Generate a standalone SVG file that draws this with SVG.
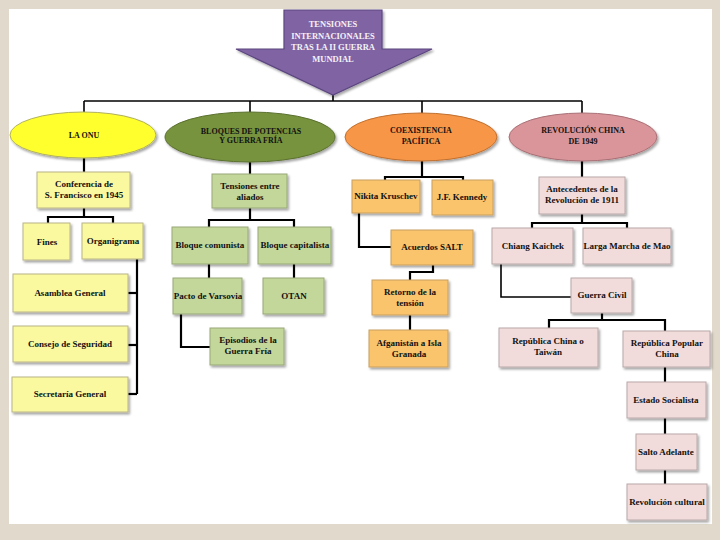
<svg xmlns="http://www.w3.org/2000/svg" width="720" height="540" viewBox="0 0 720 540">
<defs>
<filter id="sh" x="-20%" y="-20%" width="150%" height="160%">
<feDropShadow dx="1.5" dy="2" stdDeviation="1.2" flood-color="#000" flood-opacity="0.35"/>
</filter>
<style>
text{font-family:"Liberation Serif","Times New Roman",serif;font-weight:bold;font-size:9px;fill:#111;text-anchor:middle}
.t{font-size:8px}
.w{fill:#f4f2f8;font-size:8.5px}
.c{fill:none;stroke:#000;stroke-width:2.2}
.c1{fill:none;stroke:#000;stroke-width:1.6}
.y{fill:#fbf9a0;stroke:#b8b488;stroke-width:1}
.g{fill:#c4d79b;stroke:#98a878;stroke-width:1}
.o{fill:#fac46c;stroke:#c8a060;stroke-width:1}
.p{fill:#f2dcdb;stroke:#b8a8a8;stroke-width:1}
rect{filter:url(#sh)}
ellipse{filter:url(#sh)}
</style>
</defs>
<rect x="0" y="0" width="720" height="540" fill="#e0d9cc" style="filter:none"/>
<rect x="9" y="9" width="703" height="515" fill="#ffffff" style="filter:none"/>

<g id="connectors">
<polyline class="c1" points="333,92 333,101"/>
<polyline class="c1" points="84,101 582,101"/>
<polyline class="c1" points="84,101 84,112"/>
<polyline class="c1" points="250,101 250,112"/>
<polyline class="c1" points="422,101 422,113"/>
<polyline class="c1" points="582,101 582,113"/>
<!-- ONU -->
<polyline class="c" points="84,158 84,172"/>
<polyline class="c" points="84,208 84,217"/>
<polyline class="c" points="48,223 48,217 113,217 113,223"/>
<polyline class="c" points="137,259 137,394"/>
<polyline class="c" points="128,293 137,293"/>
<polyline class="c" points="128,345 137,345"/>
<polyline class="c" points="128,394 137,394"/>
<!-- Bloques -->
<polyline class="c" points="250,162 250,174"/>
<polyline class="c" points="250,208 250,220"/>
<polyline class="c" points="209,227 209,220 294,220 294,227"/>
<polyline class="c" points="209,264 209,278"/>
<polyline class="c" points="294,264 294,278"/>
<polyline class="c" points="181,314 181,347 210,347"/>
<!-- Coexistencia -->
<polyline class="c" points="422,161 422,177"/>
<polyline class="c" points="385,180 385,177 463,177 463,180"/>
<polyline class="c" points="359,213 359,247 391,247"/>
<polyline class="c" points="433,265 433,272 410,272 410,280"/>
<polyline class="c" points="410,315 410,330"/>
<!-- Revolucion -->
<polyline class="c" points="582,161 582,177"/>
<polyline class="c" points="582,214 582,223"/>
<polyline class="c" points="532,228 532,223 627,223 627,228"/>
<polyline class="c1" points="501,264 501,297 571,297"/>
<polyline class="c" points="602,313 602,320"/>
<polyline class="c" points="549,328 549,320 665,320 665,331"/>
<polyline class="c" points="665,367 665,382"/>
<polyline class="c" points="665,418 665,434"/>
<polyline class="c" points="665,470 665,484"/>
</g>

<g id="titulo">
<polygon points="284,10 382,10 382,49 432,49 333,95 236,49 284,49" fill="#8064a2" stroke="#5c4680" stroke-width="1.2" style="filter:url(#sh)"/>
<text class="w" x="333" y="27">TENSIONES</text>
<text class="w" x="333" y="39">INTERNACIONALES</text>
<text class="w" x="333" y="50">TRAS LA II GUERRA</text>
<text class="w" x="333" y="62">MUNDIAL</text>
</g>

<g id="onu">
<ellipse cx="83" cy="135" rx="73" ry="23" fill="#ffff2e" stroke="#b0b060"/>
<text class="t" x="84" y="138">LA ONU</text>
</g>
<g id="bloques">
<ellipse cx="250" cy="137" rx="85" ry="25" fill="#77933c" stroke="#5a7030"/>
<text class="t" x="251" y="134">BLOQUES DE POTENCIAS</text>
<text class="t" x="251" y="143">Y GUERRA FRÍA</text>
</g>
<g id="coexistencia">
<ellipse cx="421" cy="137" rx="76" ry="24" fill="#f79646" stroke="#c07030"/>
<text class="t" x="421" y="133">COEXISTENCIA</text>
<text class="t" x="421" y="144">PACÍFICA</text>
</g>
<g id="revolucion">
<ellipse cx="583" cy="137" rx="74" ry="24" fill="#d9959a" stroke="#a87076"/>
<text class="t" x="583" y="133">REVOLUCIÓN CHINA</text>
<text class="t" x="583" y="144">DE 1949</text>
</g>

<g id="conferencia"><rect class="y" x="37" y="172" width="93" height="36"/><text x="84" y="187">Conferencia de</text><text x="84" y="198">S. Francisco en 1945</text></g>
<g id="fines"><rect class="y" x="23" y="223" width="47" height="37"/><text x="47" y="245">Fines</text></g>
<g id="organigrama"><rect class="y" x="82" y="223" width="61" height="36"/><text x="113" y="244">Organigrama</text></g>
<g id="asamblea"><rect class="y" x="13" y="274" width="115" height="38"/><text x="70" y="296">Asamblea General</text></g>
<g id="consejo"><rect class="y" x="13" y="326" width="115" height="36"/><text x="70" y="347">Consejo de Seguridad</text></g>
<g id="secretaria"><rect class="y" x="12" y="377" width="116" height="35"/><text x="70" y="397">Secretaría General</text></g>

<g id="tensiones"><rect class="g" x="212" y="174" width="75" height="34"/><text x="250" y="189">Tensiones entre</text><text x="250" y="200">aliados</text></g>
<g id="comunista"><rect class="g" x="172" y="227" width="76" height="37"/><text x="210" y="248">Bloque comunista</text></g>
<g id="capitalista"><rect class="g" x="258" y="227" width="73" height="37"/><text x="295" y="248">Bloque capitalista</text></g>
<g id="varsovia"><rect class="g" x="173" y="278" width="69" height="36"/><text x="208" y="299">Pacto de Varsovia</text></g>
<g id="otan"><rect class="g" x="263" y="278" width="61" height="36"/><text x="294" y="299">OTAN</text></g>
<g id="episodios"><rect class="g" x="210" y="328" width="74" height="37"/><text x="248" y="343">Episodios de la</text><text x="248" y="354">Guerra Fría</text></g>

<g id="nikita"><rect class="o" x="352" y="180" width="68" height="33"/><text x="386" y="199">Nikita Kruschev</text></g>
<g id="kennedy"><rect class="o" x="432" y="180" width="61" height="35"/><text x="462" y="200">J.F. Kennedy</text></g>
<g id="salt"><rect class="o" x="391" y="230" width="82" height="35"/><text x="432" y="250">Acuerdos SALT</text></g>
<g id="retorno"><rect class="o" x="372" y="280" width="76" height="35"/><text x="410" y="295">Retorno de la</text><text x="410" y="306">tensión</text></g>
<g id="afganistan"><rect class="o" x="369" y="330" width="79" height="37"/><text x="409" y="346">Afganistán a Isla</text><text x="409" y="357">Granada</text></g>

<g id="antecedentes"><rect class="p" x="539" y="177" width="86" height="37"/><text x="582" y="192">Antecedentes de la</text><text x="582" y="203">Revolución de 1911</text></g>
<g id="chiang"><rect class="p" x="492" y="228" width="81" height="36"/><text x="533" y="249">Chiang Kaichek</text></g>
<g id="larga"><rect class="p" x="583" y="228" width="88" height="36"/><text x="627" y="249">Larga Marcha de Mao</text></g>
<g id="guerracivil"><rect class="p" x="571" y="278" width="61" height="35"/><text x="602" y="298">Guerra Civil</text></g>
<g id="taiwan"><rect class="p" x="499" y="328" width="99" height="39"/><text x="548" y="344">República China o</text><text x="548" y="355">Taiwán</text></g>
<g id="popular"><rect class="p" x="623" y="331" width="87" height="36"/><text x="667" y="346">República Popular</text><text x="667" y="357">China</text></g>
<g id="estado"><rect class="p" x="627" y="382" width="79" height="36"/><text x="666" y="403">Estado Socialista</text></g>
<g id="salto"><rect class="p" x="636" y="434" width="61" height="36"/><text x="666" y="455">Salto Adelante</text></g>
<g id="cultural"><rect class="p" x="627" y="484" width="80" height="36"/><text x="667" y="505">Revolución cultural</text></g>
</svg>
